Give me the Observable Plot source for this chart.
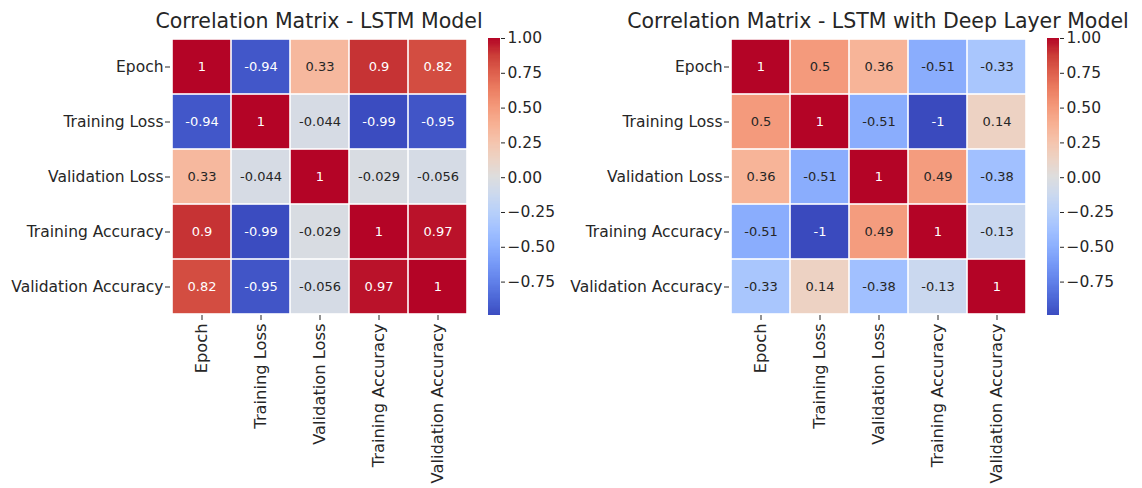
<!DOCTYPE html>
<html><head><meta charset="utf-8">
<script src="https://cdn.jsdelivr.net/npm/d3@7"></script>
<script src="https://cdn.jsdelivr.net/npm/@observablehq/plot@0.6"></script>
<style>
body{margin:0;background:#fff;}
#wrap{position:relative;width:1142px;height:488px;overflow:hidden;font-family:"DejaVu Sans",sans-serif;background:#fff;}
.panel{position:absolute;top:0;}
.panel svg{overflow:visible;}
.title{position:absolute;top:13px;font-size:20.5px;line-height:16px;color:#262626;white-space:nowrap;transform:translateX(-50%);}
</style></head><body><div id="wrap"></div>
<script>
// ---- data ----
const variables = ["Epoch", "Training Loss", "Validation Loss", "Training Accuracy", "Validation Accuracy"];
const lstmValues = [
  [1, -0.94, 0.33, 0.9, 0.82],
  [-0.94, 1, -0.044, -0.99, -0.95],
  [0.33, -0.044, 1, -0.029, -0.056],
  [0.9, -0.99, -0.029, 1, 0.97],
  [0.82, -0.95, -0.056, 0.97, 1]
];
const deepValues = [
  [1, 0.5, 0.36, -0.51, -0.33],
  [0.5, 1, -0.51, -1, 0.14],
  [0.36, -0.51, 1, 0.49, -0.38],
  [-0.51, -1, 0.49, 1, -0.13],
  [-0.33, 0.14, -0.38, -0.13, 1]
];
const titles = ["Correlation Matrix - LSTM Model", "Correlation Matrix - LSTM with Deep Layer Model"];
const colorbarTicks = [-0.75, -0.5, -0.25, 0, 0.25, 0.5, 0.75, 1];
const vmin = -0.99, vmax = 1;
const coolwarmStops = ["#3b4cc0","#4d68d7","#6282ea","#779af7","#8db0fe","#a3c2ff","#b8d0f9","#ccd9ee","#dddddd","#ecd3c5","#f5c4ad","#f7b194","#f49a7b","#ec7f63","#de604d","#cb3e38","#b40426"];

// ---- helpers ----
const coolwarm = d3.piecewise(d3.interpolateRgb, coolwarmStops);
function lin(c) { c /= 255; return c <= 0.03928 ? c / 12.92 : Math.pow((c + 0.055) / 1.055, 2.4); }
function isDark(v) {
  const c = d3.rgb(coolwarm((v - vmin) / (vmax - vmin)));
  const l = 0.2126 * lin(c.r) + 0.7152 * lin(c.g) + 0.0722 * lin(c.b);
  return l <= 0.408;
}
const colorScale = {type: "linear", domain: [vmin, vmax], interpolate: coolwarm};
const baseStyle = {fontFamily: "DejaVu Sans", fontSize: "15.5px", color: "#262626", background: "transparent", overflow: "visible"};

function heatmap(values) {
  const cells = [];
  values.forEach((row, i) => row.forEach((v, j) => cells.push({row: variables[i], col: variables[j], v})));
  return Plot.plot({
    width: 468, height: 488,
    marginLeft: 170, marginRight: 0, marginTop: 38, marginBottom: 173,
    style: baseStyle,
    x: {domain: variables, padding: 0, label: null, axis: null},
    y: {domain: variables, padding: 0, label: null, axis: null},
    color: colorScale,
    marks: [
      Plot.cell(cells, {x: "col", y: "row", fill: "v", inset: 0.8}),
      Plot.text(cells.filter(d => isDark(d.v)), {x: "col", y: "row", text: d => String(d.v), fill: "white", fontSize: 13}),
      Plot.text(cells.filter(d => !isDark(d.v)), {x: "col", y: "row", text: d => String(d.v), fill: "#262626", fontSize: 13}),
      Plot.axisX({anchor: "bottom", label: null, tickRotate: -90, tickSize: 5, tickPadding: 3, fontSize: 16.3}),
      Plot.axisY({anchor: "left", label: null, tickSize: 5, tickPadding: 2, fontSize: 15.5})
    ]
  });
}

function colorbar() {
  const N = 240;
  const steps = d3.range(N).map(i => ({y1: vmin + (vmax - vmin) * i / N, y2: vmin + (vmax - vmin) * (i + 1) / N}));
  return Plot.plot({
    width: 62, height: 488,
    marginLeft: 0, marginRight: 50, marginTop: 38, marginBottom: 173,
    style: baseStyle,
    x: {domain: [0, 1], axis: null},
    y: {domain: [vmin, vmax], axis: "right", ticks: colorbarTicks, tickFormat: d => d.toFixed(2).replace("-", "\u2212"), tickSize: 4, tickPadding: 3, label: null},
    color: colorScale,
    marks: [
      Plot.rect(steps, {x1: 0, x2: 1, y1: "y1", y2: "y2", fill: d => (d.y1 + d.y2) / 2, shapeRendering: "crispEdges"})
    ]
  });
}

const wrap = document.getElementById("wrap");
function place(node, left) {
  const div = document.createElement("div");
  div.className = "panel";
  div.style.left = left + "px";
  div.appendChild(node);
  wrap.appendChild(div);
}
function addTitle(text, center) {
  const t = document.createElement("div");
  t.className = "title";
  t.style.left = center + "px";
  t.textContent = text;
  wrap.appendChild(t);
}

place(heatmap(lstmValues), 0);
place(colorbar(), 488);
place(heatmap(deepValues), 559);
place(colorbar(), 1047);
addTitle(titles[0], 319);
addTitle(titles[1], 878);
</script>
</body></html>
